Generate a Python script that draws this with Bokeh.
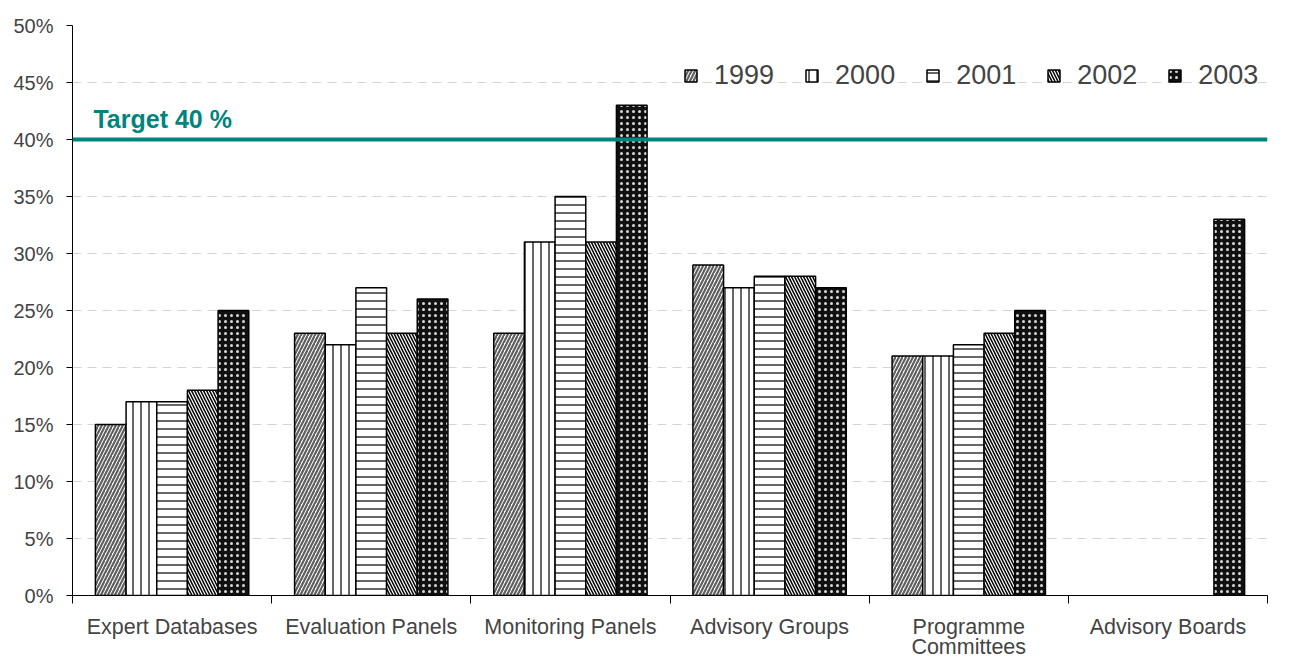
import numpy as np
from bokeh.plotting import figure
from bokeh.models import (ColumnDataSource, Range1d, FixedTicker, PrintfTickFormatter,
                          Span, Label, Legend, LegendItem)
from bokeh.transform import dodge
from bokeh.embed import file_html
from bokeh.resources import INLINE

categories = ["Expert Databases", "Evaluation Panels", "Monitoring Panels",
              "Advisory Groups", "Programme\nCommittees", "Advisory Boards"]
years = ["1999", "2000", "2001", "2002", "2003"]
v1999 = [15, 23, 23, 29, 21, np.nan]
v2000 = [17, 22, 31, 27, 21, np.nan]
v2001 = [17, 27, 35, 28, 22, np.nan]
v2002 = [18, 23, 31, 28, 23, np.nan]
v2003 = [25, 26, 43, 27, 25, 33]
target = 40
y_ticks = [0, 5, 10, 15, 20, 25, 30, 35, 40, 45, 50]

series = [v1999, v2000, v2001, v2002, v2003]
styles = [
    dict(fill_color="white", hatch_pattern="/", hatch_color="#606060", hatch_scale=7, hatch_weight=2.2),
    dict(fill_color="white", hatch_pattern="|", hatch_color="black", hatch_scale=8, hatch_weight=1.2),
    dict(fill_color="white", hatch_pattern="-", hatch_color="black", hatch_scale=8, hatch_weight=1.2),
    dict(fill_color="white", hatch_pattern="\\", hatch_color="black", hatch_scale=6, hatch_weight=1.5),
    dict(fill_color="#111111", hatch_pattern=".", hatch_color="#d8d8d8", hatch_scale=6, hatch_weight=1.6),
]

FONT = "Liberation Sans"
TEAL = "#00857D"
n = len(categories)
centers = np.arange(n) + 0.5

p = figure(width=1282, height=661, output_backend="svg", toolbar_location=None,
           x_range=Range1d(0, n), y_range=Range1d(0, 50),
           min_border_left=72, min_border_right=15, min_border_top=25, min_border_bottom=65)
p.outline_line_color = None
p.background_fill_color = "white"

bw = 0.154
items = []
for j, (vals, st) in enumerate(zip(series, styles)):
    src = ColumnDataSource(dict(x=centers, top=vals))
    r = p.vbar(x=dodge("x", (j - 2) * bw, range=p.x_range), top="top", bottom=0, width=bw,
               source=src, line_color="black", line_width=1.5, **st)
    items.append(LegendItem(label=years[j], renderers=[r]))

legend = Legend(items=items, orientation="horizontal", location=(611, 504),
                border_line_color=None, background_fill_alpha=0,
                label_text_font=FONT, label_text_font_size="27px",
                glyph_width=15, glyph_height=15, label_height=28,
                label_standoff=16, spacing=30, padding=0, margin=0)
p.add_layout(legend)

span = Span(location=target, dimension="width", line_color=TEAL, line_width=4)
p.add_layout(span)
p.add_layout(Label(x=0.105, y=target, y_offset=7, text="Target 40 %", text_color=TEAL,
                   text_baseline="bottom",
                   text_font=FONT, text_font_size="25px", text_font_style="bold"))

# y axis
p.yaxis.ticker = FixedTicker(ticks=y_ticks)
p.yaxis.formatter = PrintfTickFormatter(format="%d%%")
p.yaxis.major_label_text_font = FONT
p.yaxis.major_label_text_font_size = "20px"
p.yaxis.major_tick_in = 0
p.yaxis.major_tick_out = 6
p.yaxis.minor_tick_line_color = None
p.yaxis.axis_line_color = "black"
p.yaxis.major_label_standoff = 13

# x axis
p.xaxis.ticker = FixedTicker(ticks=list(centers), minor_ticks=list(range(n + 1)))
p.xaxis.major_label_overrides = {float(c): lab for c, lab in zip(centers, categories)}
p.xaxis.major_label_text_font = FONT
p.xaxis.major_label_text_font_size = "21.5px"
p.xaxis.major_label_text_line_height = 0.85
p.xaxis.major_tick_line_color = None
p.xaxis.major_tick_in = 0
p.xaxis.major_tick_out = 8
p.xaxis.minor_tick_in = 0
p.xaxis.minor_tick_out = 8
p.xaxis.minor_tick_line_color = "black"
p.xaxis.major_label_standoff = 11

p.xgrid.grid_line_color = None
p.ygrid.grid_line_color = "#d4d4d4"
p.ygrid.grid_line_dash = "9 6"
p.ygrid.grid_line_width = 1.2

open("out.html", "w").write(file_html(p, INLINE))
